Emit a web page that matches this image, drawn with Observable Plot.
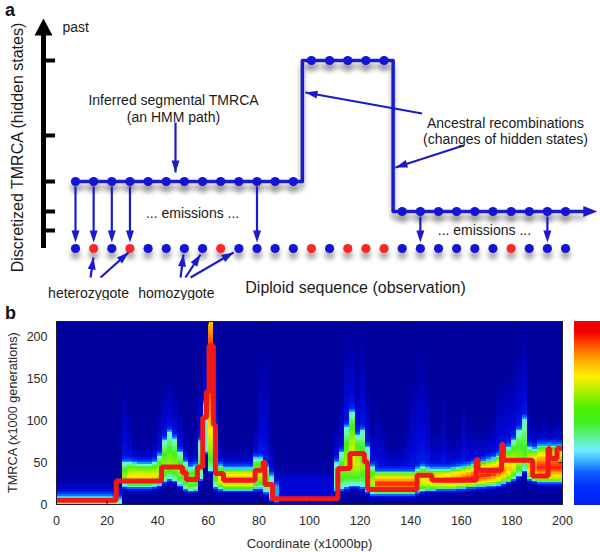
<!DOCTYPE html>
<html><head><meta charset="utf-8">
<script src="https://cdn.jsdelivr.net/npm/d3@7"></script>
<script src="https://cdn.jsdelivr.net/npm/@observablehq/plot@0.6"></script>
<style>
body{margin:0;background:#fff;font-family:"Liberation Sans",Arial,sans-serif;}
#wrap{position:relative;width:600px;height:552px;overflow:hidden;background:#fff;}
.pl{position:absolute;font:bold 18px "Liberation Sans",Arial,sans-serif;color:#111;line-height:1;}
#cbar{position:absolute;left:574px;top:321px;width:30px;height:184px;
background:linear-gradient(to top,#0020f0 0%,#0030ff 10%,#1060ff 18%,#40b0ff 24%,#70f0ff 30%,#60f0a0 36%,#40f020 45%,#50f000 53%,#b0f000 62%,#ffee00 70%,#ffb000 78%,#ff5000 87%,#f00000 94%,#f00000 100%);}
</style></head><body><div id="wrap"></div>
<script>
// ---------------- Panel a data ----------------
const sites = [0,1,2,3,4,5,6,7,8,9,10,11,12,13,14,15,16,17,18,19,20,21,22,23,24,25,26,27];
const obsType = ["hom","het","hom","het","hom","hom","hom","hom","het","hom","hom","hom","hom","het","hom","het","het","het","hom","hom","hom","hom","hom","hom","het","hom","hom","hom"];
const hiddenState = [3,3,3,3,3,3,3,3,3,3,3,3,3,5,5,5,5,5,2,2,2,2,2,2,2,2,2,2];
const stateLevels = [18, 37, 67, 113, 188];
const emissionSites = [0,1,2,3,10,19,26];
const annX1 = [5.51, 19.10, 21.38, 0.83, 1.38, 5.79, 6.06, 6.34];
const annY1 = [126, 135, 103, -29, -29, -29, -29, -29];
const annX2 = [5.51, 12.67, 17.63, 0.99, 2.92, 5.95, 6.89, 8.71];
const annY2 = [76, 156, 81, -9, -4, -6, -6, -4];
const labels = ["Inferred segmental TMRCA","(an HMM path)","Ancestral recombinations","(changes of hidden states)","... emissions ...","... emissions ...","heterozygote","homozygote"];
const labelX = [5.40, 5.40, 23.69, 23.69, 6.45, 22.53, 0.72, 5.56];
const labelY = [148, 131, 125, 109, 35, 18, -45, -45];

// ---------------- Panel b data ----------------
const xTicks = [0,20,40,60,80,100,120,140,160,180,200];
const yTicks = [0,50,100,150,200];
// posterior band per 2 kb column: lower edge, centre, upper edge, peak intensity, faint plume top
const bandLo = [0,0,0,0,0,0,0,0,0,0,0, 0,0, 21,20,20,20,20,20,21,23,27,30,28,23,18,16,17,30,62,40,20,18, 17,17,17,17,17,17, 19,19,14,6,3, 0,0,0,0,0,0,0,0,0,0,0, 17,18,20,22,22,20,15,12, 12,12,12,12,12,12,12,12, 14,16,17,17,18,18,18,18,19,19,20,20,21,21,22,22,23,25,27,30,34,40,30,28, 26,26,26,26,26];
const bandMid = [2,2,2,2,2,2,2,2,2,2,2, 2,3, 33,33,33,33,33,33,34,36,44,48,45,38,31,28,29,46,90,170,34,30, 29,29,29,29,29,29, 33,35,28,18,10, 10,10,10,10,10,10,10,10,10,10,10, 30,38,46,55,48,46,34,25, 24,24,24,24,24,24,24,24, 26,28,28,28,28,28,28,29,29,30,31,32,33,34,35,36,38,40,42,45,50,55,45,44, 44,44,44,44,44];
const bandHi = [9,9,9,9,9,9,9,9,9,9,9, 8,6, 50,50,49,48,48,48,50,58,76,86,78,62,50,44,46,75,120,260,88,46, 43,43,43,43,43,43, 55,55,44,34,22, 30,30,30,30,30,30,30,30,30,30,30, 50,62,92,110,82,88,68,45, 38,38,38,38,38,38,38,38, 42,45,43,42,42,42,42,43,44,45,46,48,50,51,53,55,58,62,68,76,88,102,68,66, 70,70,70,70,70];
const bandPk = [0.95,0.95,0.95,0.95,0.95,0.95,0.95,0.95,0.95,0.95,0.95, 0.85,0.45, 0.6,0.7,0.72,0.72,0.72,0.72,0.7,0.66,0.6,0.6,0.6,0.6,0.6,0.62,0.6,0.5,0.42,1.0,0.55,0.75, 0.85,0.85,0.85,0.85,0.85,0.85, 0.68,0.65,0.55,0.4,0.3, 0.1,0.1,0.1,0.1,0.1,0.1,0.1,0.1,0.1,0.1,0.1, 0.45,0.58,0.62,0.7,0.66,0.6,0.55,0.65, 0.95,0.95,0.95,0.95,0.95,0.95,0.95,0.95, 0.82,0.72,0.75,0.8,0.83,0.85,0.87,0.9,0.9,0.92,0.93,0.95,0.95,0.95,0.95,0.93,0.9,0.85,0.78,0.7,0.62,0.55,0.8,0.88, 0.95,0.95,0.95,0.95,0.95];
const bandPl = [9,9,9,9,9,9,9,9,9,9,9, 8,20, 150,120,75,70,70,75,90,120,150,165,150,120,90,70,90,160,219,260,200,80, 60,65,70,65,60,70, 100,180,200,80,40, 30,30,30,30,30,30,30,30,30,30,30, 100,130,219,219,160,219,150,100, 130,110,80,70,70,80,110,160, 190,210,160,90,90,140,90,80,90,140,100,100,90,90,100,110,150,160,165,175,200,219,120,100, 90,110,90,100,110];
// decoded TMRCA path (step breakpoints)
const pathX = [0,23.6,41.5,49.8,51.3,55.7,57.8,59.3,60.3,62.0,62.8,66,78.5,81.7,82.4,85.4,111.2,116,121.7,123,142.5,148.4,165.9,166.6,175.9,176.6,188.2,194.3,195,197.8,200];
const pathY = [5,28,45,38,30,45,104,135,190,95,37,29,41,51,24,7,43,61,51,18,35,29,54,41,72,53,34,67,55,67,67];

// ---------------- Panel a ----------------
const FONT = "Liberation Sans, Arial, Helvetica, sans-serif";
const KX = 18.15, KY = 1;
const XD = [-75/KX, 525/KX], YD = [-52, 248];
const BLUE = "#1b1bcc", DOTBLUE = "#1414d4", RED = "#ff2626", SH = "#8a8a8a";
const head = (len, wid) => ({draw(ctx){ctx.moveTo(0,0);ctx.lineTo(-wid/2,len);ctx.lineTo(wid/2,len);ctx.closePath();}});
const rot = (x1,y1,x2,y2) => Math.atan2((x2-x1)*KX, (y2-y1)*KY)*180/Math.PI;
const level = i => stateLevels[hiddenState[i]-1];
const axisX = -1.763;

const pathPts = sites.map(i => ({x: i, y: level(i)}));
pathPts.push({x: 28.0, y: level(27)});
const obs = sites.map(i => ({x: i, t: obsType[i]}));
const emis = emissionSites.map(i => ({x: i, y1: level(i) - 5, y2: 16, y: 6}));
const anns = annX1.map((d,k) => ({x1: d, y1: annY1[k], x2: annX2[k], y2: annY2[k], r: rot(d, annY1[k], annX2[k], annY2[k])}));
const labs = labels.map((t,k) => ({t, x: labelX[k], y: labelY[k]}));

const plotA = Plot.plot({
  width: 600, height: 300, margin: 0,
  x: {domain: XD, axis: null}, y: {domain: YD, axis: null},
  style: {fontFamily: FONT, background: "transparent"},
  marks: [
    // shadows
    Plot.line(pathPts, {x: "x", y: d => d.y - 6, curve: "step", stroke: SH, strokeWidth: 4}),
    Plot.dot(pathPts.slice(0, 28), {x: "x", y: d => d.y - 6, r: 5, fill: SH, stroke: "none"}),
    Plot.dot(obs, {x: "x", y: -6, r: 5, fill: SH, stroke: "none"}),
    // axis
    Plot.ruleX([axisX], {y1: 0, y2: 216, stroke: "#000", strokeWidth: 5}),
    Plot.ruleY(stateLevels, {x1: axisX, x2: -1.10, stroke: "#000", strokeWidth: 4}),
    Plot.dot([{x: axisX, y: 230}], {x: "x", y: "y", r: 6, symbol: head(17, 18), fill: "#000", stroke: "none"}),
    // hidden path
    Plot.line(pathPts, {x: "x", y: "y", curve: "step", stroke: BLUE, strokeWidth: 3.5}),
    Plot.dot([{x: 28.75, y: level(27)}], {x: "x", y: "y", r: 6, symbol: head(14, 11), rotate: 90, fill: BLUE, stroke: "none"}),
    Plot.dot(pathPts.slice(0, 28), {x: "x", y: "y", r: 4.6, fill: DOTBLUE, stroke: "none"}),
    // emissions
    Plot.link(emis, {x1: "x", x2: "x", y1: "y1", y2: "y2", stroke: BLUE, strokeWidth: 2.2}),
    Plot.dot(emis, {x: "x", y: "y", r: 5, symbol: head(12, 8), rotate: 180, fill: BLUE, stroke: "none"}),
    // observations
    Plot.dot(obs, {x: "x", y: 0, r: 4.6, fill: d => d.t === "het" ? RED : DOTBLUE, stroke: "none"}),
    // annotation arrows
    Plot.link(anns, {x1: "x1", y1: "y1", x2: "x2", y2: "y2", stroke: BLUE, strokeWidth: 2.2}),
    Plot.dot(anns, {x: "x2", y: "y2", r: 5, symbol: head(12, 8), rotate: "r", fill: BLUE, stroke: "none"}),
    // texts
    Plot.text(["past"], {x: -0.716, y: 221, text: d => d, textAnchor: "start", fontSize: 14, fill: "#1a1a1a"}),
    Plot.text(labs, {x: "x", y: "y", text: "t", fontSize: 14, fill: "#1a1a1a"}),
    Plot.text(["Diploid sequence (observation)"], {x: 15.43, y: -39, text: d => d, fontSize: 16, fill: "#1a1a1a"}),
    Plot.text(["Discretized TMRCA (hidden states)"], {x: -3.2, y: 101, text: d => d, fontSize: 16, rotate: -90, fill: "#1a1a1a"})
  ]
});

// ---------------- Panel b ----------------
function intensity(i, Y) {
  const L = bandLo[i], M = bandMid[i], H = bandHi[i], P = bandPk[i], T = bandPl[i];
  const E = Math.min(0.33, P);
  if (Y >= L && Y <= H) {
    const t = Y < M ? (Y - L) / Math.max(M - L, 1) : (H - Y) / Math.max(H - M, 1);
    return E + (P - E) * Math.pow(Math.max(0, Math.min(1, t)), 0.55);
  }
  if (Y < L) return E * Math.exp(-(L - Y) / 3);
  let v = E * Math.exp(-(Y - H) / 7);
  if (T > H && Y < T) v = Math.max(v, 0.14 * Math.pow(1 - (Y - H) / (T - H), 1.3));
  return v;
}
const cells = [];
for (let i = 0; i < bandLo.length; i++) {
  for (let j = 0; j < 110; j++) {
    cells.push({x1: 2*i, x2: 2*i + 2, y1: 2*j, y2: 2*j + 2, v: intensity(i, 2*j + 1)});
  }
}
const redPath = pathX.map((x, k) => ({x, y: pathY[k]}));

const plotB = Plot.plot({
  width: 600, height: 252, marginLeft: 56, marginRight: 38, marginTop: 21, marginBottom: 48,
  x: {domain: [0, 200], ticks: xTicks, tickSize: 0, tickPadding: 12, label: null},
  y: {domain: [0, 219], ticks: yTicks, tickSize: 0, tickPadding: 9, label: null},
  color: {type: "linear", domain: [0, 0.1, 0.2, 0.3, 0.36, 0.44, 0.52, 0.62, 0.72, 0.84, 0.94, 1],
          range: ["#00009c", "#0006d6", "#0040ff", "#10a8ff", "#60f0ff", "#70f8a0", "#40f020", "#a8f000", "#ffee00", "#ff8a00", "#ff2000", "#ee0000"],
          interpolate: "rgb"},
  style: {fontFamily: FONT, fontSize: "12.5px", color: "#2a2a2a", background: "transparent"},
  marks: [
    Plot.rect(cells, {x1: "x1", x2: "x2", y1: "y1", y2: "y2", fill: "v", shapeRendering: "crispEdges", clip: true}),
    Plot.line(redPath, {x: "x", y: "y", curve: "step-after", stroke: "#f01818", strokeWidth: 5, strokeLinejoin: "miter", clip: true}),
    Plot.ruleX(xTicks, {y1: 0, y2: 4, stroke: "#111"}),
    Plot.ruleX(xTicks, {y1: 215, y2: 219, stroke: "#111"}),
    Plot.ruleY(yTicks, {x1: 0, x2: 1.4, stroke: "#111"}),
    Plot.ruleY(yTicks, {x1: 198.6, x2: 200, stroke: "#111"}),
    Plot.frame({stroke: "#1c1c3a"}),
    Plot.text(["Coordinate (x1000bp)"], {x: 100, y: -47, text: d => d, fontSize: 13, fill: "#2a2a2a"}),
    Plot.text(["TMRCA (x1000 generations)"], {x: -17.4, y: 110, text: d => d, fontSize: 12.7, rotate: -90, fill: "#2a2a2a"})
  ]
});

const wrap = document.getElementById("wrap");
plotA.style.position = "absolute"; plotA.style.left = "0px"; plotA.style.top = "0px";
plotB.style.position = "absolute"; plotB.style.left = "0px"; plotB.style.top = "300px";
wrap.append(plotA, plotB);

// blurred drop shadows in panel a
const ns = "http://www.w3.org/2000/svg";
const defs = document.createElementNS(ns, "defs");
defs.innerHTML = '<filter id="shblur" filterUnits="userSpaceOnUse" x="0" y="0" width="600" height="300"><feGaussianBlur stdDeviation="2.4"/></filter>';
plotA.insertBefore(defs, plotA.firstChild);
plotA.querySelectorAll('[stroke="' + SH + '"],[fill="' + SH + '"]').forEach(g => { g.setAttribute("filter", "url(#shblur)"); g.setAttribute("opacity", "0.75"); });

const cb = document.createElement("div"); cb.id = "cbar"; wrap.append(cb);
const la = document.createElement("div"); la.className = "pl"; la.textContent = "a"; la.style.left = "5px"; la.style.top = "1px"; wrap.append(la);
const lb = document.createElement("div"); lb.className = "pl"; lb.textContent = "b"; lb.style.left = "5px"; lb.style.top = "304px"; wrap.append(lb);
</script></body></html>
